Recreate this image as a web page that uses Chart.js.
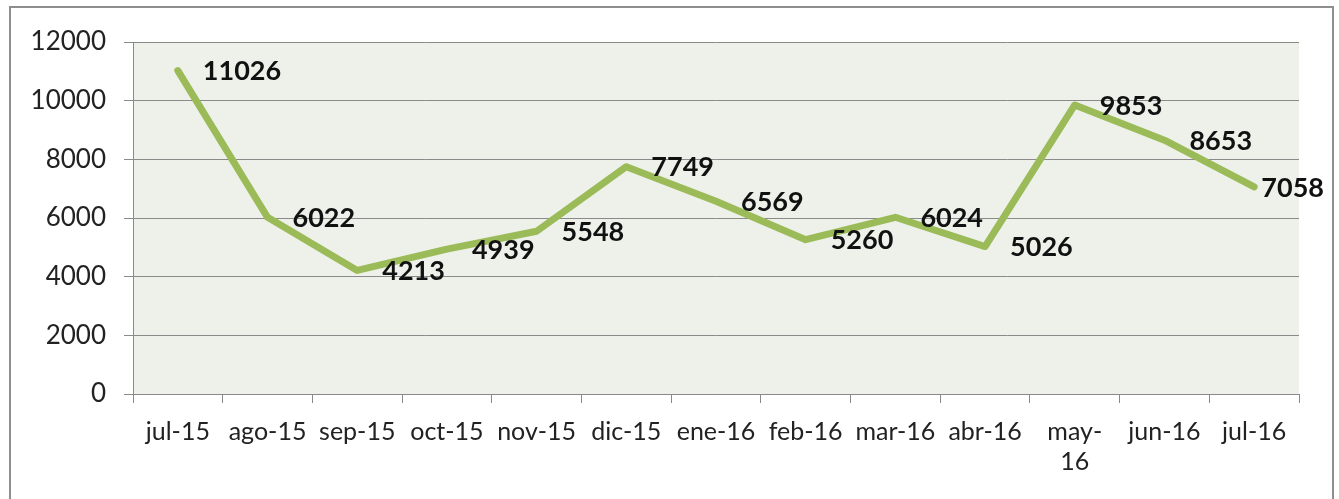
<!DOCTYPE html>
<html>
<head>
<meta charset="utf-8">
<script src="https://cdn.jsdelivr.net/npm/chart.js@4"></script>
<style>
  body { margin: 0; background: #fff; }
  #wrap { position: relative; width: 1339px; height: 499px; overflow: hidden; }
  #frame { position: absolute; left: 9px; top: 6px; width: 1321px; height: 600px; border: 2px solid #8e8e8e; }
  canvas { position: absolute; left: 0; top: 0; }
</style>
</head>
<body>
<div id="wrap">
  <div id="frame"></div>
  <canvas id="chart" width="1339" height="499"></canvas>
</div>
<script>
// datos
const meses = ['jul-15', 'ago-15', 'sep-15', 'oct-15', 'nov-15', 'dic-15', 'ene-16',
               'feb-16', 'mar-16', 'abr-16', ['may-', '16'], 'jun-16', 'jul-16'];
const valores = [11026, 6022, 4213, 4939, 5548, 7749, 6569, 5260, 6024, 5026, 9853, 8653, 7058];
const yTicks = [0, 2000, 4000, 6000, 8000, 10000, 12000];

// fondo del área de trazado
const plotBg = {
    id: 'plotBg',
    beforeDraw(chart) {
        const a = chart.chartArea;
        const ctx = chart.ctx;
        ctx.save();
        ctx.fillStyle = '#eef1e9';
        ctx.fillRect(a.left, a.top, a.right - a.left, a.bottom - a.top);
        ctx.restore();
    }
};

// etiquetas de datos a la derecha
const etiquetas = {
    id: 'etiquetas',
    afterDatasetsDraw(chart) {
        const ctx = chart.ctx;
        const meta = chart.getDatasetMeta(0);
        const right = chart.chartArea.right + 25;
        ctx.save();
        ctx.font = 'bold 27px Lato';
        ctx.fillStyle = '#111';
        ctx.textAlign = 'left';
        ctx.textBaseline = 'middle';
        meta.data.forEach((pt, i) => {
            const txt = String(valores[i]);
            const w = ctx.measureText(txt).width;
            let x = pt.x + 25;
            if (x + w > right) x = right - w;
            ctx.fillText(txt, x, pt.y + 1);
        });
        ctx.restore();
    }
};

new Chart(document.getElementById('chart').getContext('2d'), {
    type: 'line',
    data: {
        labels: meses,
        datasets: [{
            data: valores,
            borderColor: '#9bbb59',
            borderWidth: 7,
            borderCapStyle: 'round',
            borderJoinStyle: 'round',
            pointRadius: 0,
            tension: 0,
            fill: false
        }]
    },
    options: {
        responsive: false,
        animation: false,
        layout: { padding: { left: 0, right: 40, top: 42, bottom: 0 } },
        plugins: {
            legend: { display: false },
            tooltip: { enabled: false }
        },
        scales: {
            x: {
                offset: true,
                grid: {
                    offset: true,
                    drawOnChartArea: false,
                    drawTicks: true,
                    tickLength: 9,
                    color: '#8a8a8a'
                },
                border: { color: '#8a8a8a', width: 1 },
                ticks: {
                    color: '#222',
                    font: { family: 'Lato', size: 25 },
                    padding: 14,
                    maxRotation: 0,
                    autoSkip: false
                },
                afterFit(scale) { scale.height = 105; }
            },
            y: {
                min: 0,
                max: 12000,
                afterBuildTicks(scale) { scale.ticks = yTicks.map(v => ({ value: v })); },
                grid: {
                    color: '#8a8a8a',
                    tickLength: 9
                },
                border: { color: '#8a8a8a', width: 1 },
                ticks: {
                    color: '#222',
                    font: { family: 'Lato', size: 26 },
                    padding: 18,
                    callback: v => String(v)
                },
                afterFit(scale) { scale.width = 133; }
            }
        }
    },
    plugins: [plotBg, etiquetas]
});
</script>
</body>
</html>
